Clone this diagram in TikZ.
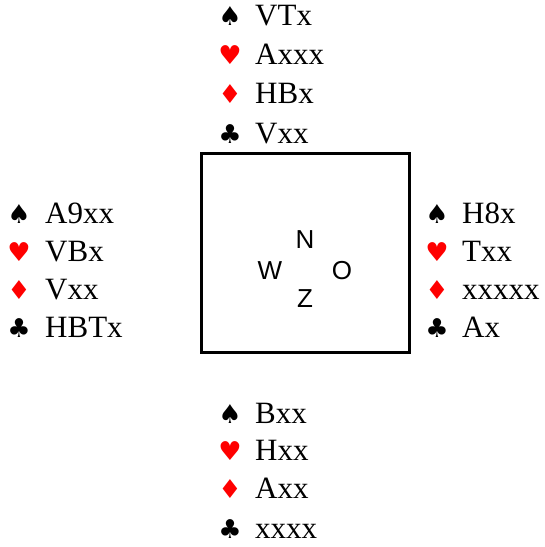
\documentclass[tikz,border=0pt]{standalone}
\usepackage{fontspec}
\setmainfont{Liberation Serif}
\setsansfont{Liberation Sans}
\newfontfamily\suitfont{DejaVu Sans}
\usetikzlibrary{positioning}
\tikzset{
  suit/.style={anchor=base,inner sep=0pt,font=\suitfont\fontsize{26}{26}\selectfont},
  holding/.style={anchor=base west,inner sep=0pt,font=\fontsize{31}{31}\selectfont},
  wind/.style={inner sep=0pt,font=\sffamily\fontsize{26}{26}\selectfont},
  tafel/.style={draw,line width=3pt,minimum width=208pt,minimum height=199pt,inner sep=0pt},
}

\begin{document}
\begin{tikzpicture}[x=1pt,y=-1pt]
    \useasboundingbox (0,0) rectangle (545,547);
    % table with the four winds
    \node[tafel] (tafel) at (305,252.5) {};
    \node[wind] (N) at (305,240) {N};
    \node[wind] (W) at (270,271) {W};
    \node[wind] (O) at (342,271) {O};
    \node[wind] (Z) at (305,299) {Z};
    % north
    \foreach \s/\c/\h/\y [count=\i] in {♠/black/VTx/25, ♥/red/Axxx/64, ♦/red/HBx/103, ♣/black/Vxx/143} {
      \node[suit,text=\c] (ns\i) at (230,\y) {\s};
      \node[holding] (nh\i) at (255,\y) {\h};
    }
    % west
    \foreach \s/\c/\h/\y [count=\i] in {♠/black/A9xx/223, ♥/red/VBx/261, ♦/red/Vxx/299, ♣/black/HBTx/337} {
      \node[suit,text=\c] (ws\i) at (19,\y) {\s};
      \node[holding] (wh\i) at (45,\y) {\h};
    }
    % east
    \foreach \s/\c/\h/\y [count=\i] in {♠/black/H8x/223, ♥/red/Txx/261, ♦/red/xxxxx/299, ♣/black/Ax/337} {
      \node[suit,text=\c] (os\i) at (437,\y) {\s};
      \node[holding] (oh\i) at (462,\y) {\h};
    }
    % south
    \foreach \s/\c/\h/\y [count=\i] in {♠/black/Bxx/423, ♥/red/Hxx/460, ♦/red/Axx/498, ♣/black/xxxx/538} {
      \node[suit,text=\c] (zs\i) at (230,\y) {\s};
      \node[holding] (zh\i) at (255,\y) {\h};
    }
\end{tikzpicture}
\end{document}
